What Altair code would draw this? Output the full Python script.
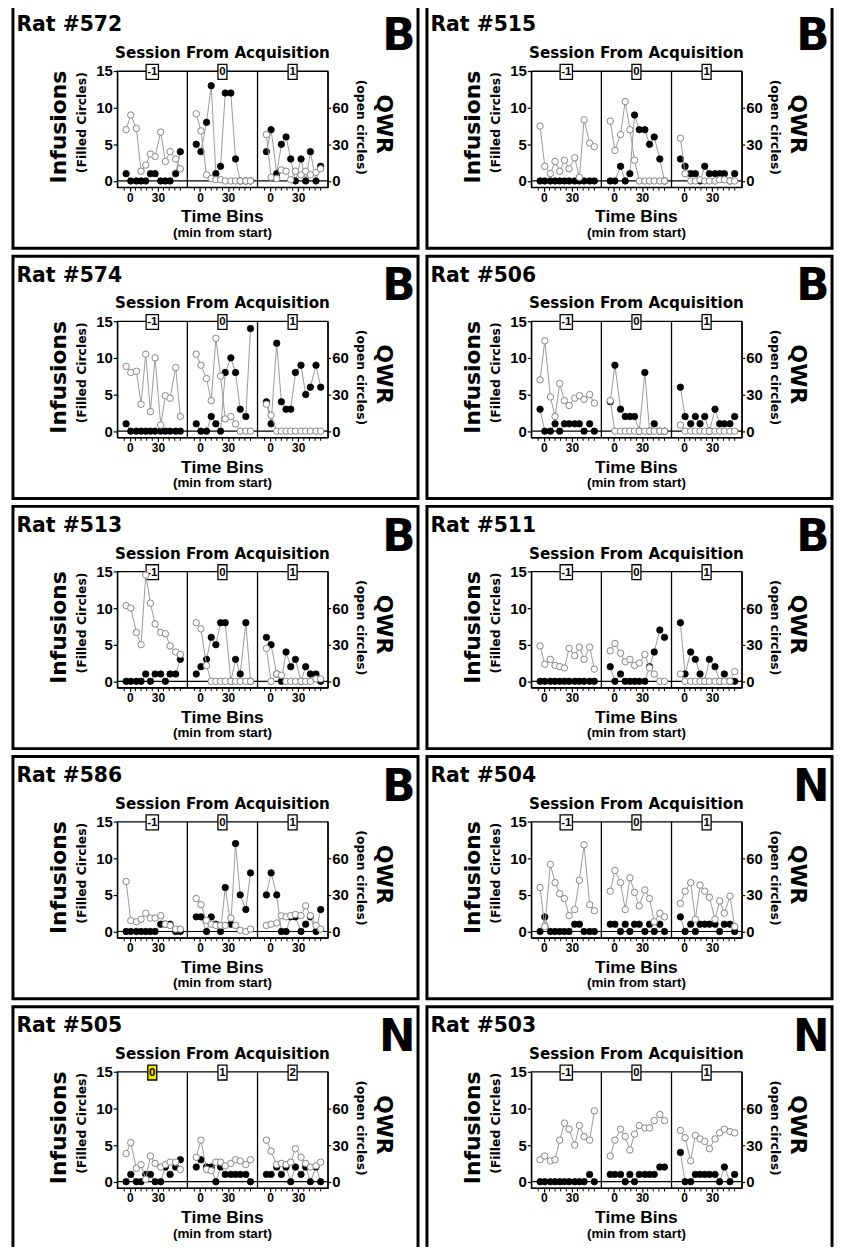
import altair as alt
import pandas as pd

# ---------------- data ----------------
RATS = ["Rat #572", "Rat #515", "Rat #574", "Rat #506", "Rat #513",
        "Rat #511", "Rat #586", "Rat #504", "Rat #505", "Rat #503"]
GROUPS = ["B", "B", "B", "B", "B", "B", "B", "N", "N", "N"]
SESSIONS = [["-1", "0", "1"]] * 8 + [["0", "1", "2"], ["-1", "0", "1"]]
HIGHLIGHT = [None] * 8 + ["0", None]

TIME_BINS = [-4, 1, 7, 12, 17, 22, 27, 33, 38, 43, 49, 54]
MAJOR_TICKS = [0, 30]
MINOR_TICKS = [-6, 6, 12, 18, 24, 36, 42, 48, 54]
INF_TICKS = [0, 5, 10, 15]
QWR_TICKS = [0, 30, 60]

INFUSIONS = [
    [[1, 0, 0, 0, 0, 1, 1, 0, 0, 0, 1, 4], [5, 4, 8, 13, 1, 2, 12, 12, 3, 0, 0, 0], [4, 7, 1, 5, 6, 3, 0, 3, 0, 4, 0, 2]],
    [[0, 0, 0, 0, 0, 0, 0, 0, 0, 0, 0, 0], [0, 0, 2, 0, 1, 9, 7, 7, 5, 6, 3, 0], [3, 2, 1, 1, 0, 2, 1, 1, 1, 1, 0, 1]],
    [[1, 0, 0, 0, 0, 0, 0, 0, 0, 0, 0, 0], [1, 0, 0, 2, 1, 0, 8, 10, 8, 3, 2, 14], [4, 1, 12, 4, 3, 3, 8, 9, 5, 6, 9, 6]],
    [[3, 0, 0, 1, 0, 1, 1, 1, 1, 0, 1, 0], [4, 9, 3, 2, 2, 2, 0, 8, 0, 1, 0, 0], [6, 2, 1, 2, 1, 2, 0, 3, 1, 1, 1, 2]],
    [[0, 0, 0, 0, 1, 0, 1, 1, 0, 1, 1, 3], [1, 2, 3, 6, 5, 8, 8, 0, 3, 1, 8, 0], [6, 5, 1, 0, 4, 2, 3, 0, 2, 1, 1, 0]],
    [[0, 0, 0, 0, 0, 0, 0, 0, 0, 0, 0, 0], [2, 0, 1, 0, 0, 0, 0, 0, 2, 4, 7, 6], [8, 1, 4, 3, 1, 0, 3, 2, 0, 1, 0, 0]],
    [[0, 0, 0, 0, 0, 0, 0, 1, 1, 1, 0, 0], [2, 2, 0, 2, 1, 0, 6, 1, 12, 5, 3, 8], [5, 8, 5, 0, 0, 2, 2, 0, 1, 2, 0, 3]],
    [[0, 2, 0, 0, 0, 0, 0, 1, 1, 0, 0, 0], [1, 1, 0, 1, 0, 1, 1, 0, 1, 0, 1, 0], [2, 0, 1, 0, 1, 1, 1, 1, 0, 1, 1, 0]],
    [[0, 1, 0, 0, 1, 1, 0, 0, 2, 1, 2, 3], [2, 3, 2, 2, 0, 2, 1, 1, 1, 1, 1, 0], [1, 1, 2, 1, 2, 0, 2, 1, 2, 0, 2, 0]],
    [[0, 0, 0, 0, 0, 0, 0, 0, 0, 0, 1, 0], [1, 1, 1, 0, 1, 0, 1, 1, 1, 1, 2, 2], [4, 0, 0, 1, 1, 1, 1, 1, 0, 2, 0, 1]],
]

QWR = [
    [[42, 54, 43, 8, 13, 22, 20, 40, 16, 24, 18, 10], [55, 41, 5, 2, 1, 1, 0, 0, 0, 0, 0, 0], [38, 3, 2, 9, 8, 1, 8, 5, 8, 5, 7, 10]],
    [[45, 12, 6, 16, 8, 17, 10, 19, 3, 50, 31, 28], [49, 25, 38, 65, 42, 17, 0, 0, 0, 0, 0, 0], [35, 6, 0, 0, 1, 0, 0, 0, 1, 1, 0, 0]],
    [[53, 48, 49, 22, 63, 16, 60, 5, 29, 27, 52, 12], [63, 54, 43, 25, 76, 45, 10, 12, 6, 0, 0, 0], [22, 13, 0, 0, 0, 0, 0, 0, 0, 0, 0, 0]],
    [[42, 74, 28, 12, 39, 25, 21, 27, 29, 26, 30, 23], [25, 0, 0, 0, 0, 0, 0, 0, 0, 0, 0, 0], [5, 0, 0, 0, 0, 0, 0, 0, 0, 0, 0, 0]],
    [[62, 60, 40, 30, 87, 64, 47, 40, 39, 29, 24, 22], [48, 43, 13, 0, 0, 0, 0, 0, 0, 0, 0, 0], [27, 0, 6, 5, 0, 0, 0, 0, 0, 0, 2, 2]],
    [[29, 14, 18, 13, 12, 11, 27, 21, 28, 18, 28, 10], [25, 31, 23, 16, 18, 13, 15, 22, 11, 6, 0, 0], [6, 0, 0, 0, 0, 0, 0, 0, 0, 0, 0, 8]],
    [[41, 9, 8, 10, 15, 11, 11, 13, 6, 5, 2, 2], [27, 22, 9, 6, 5, 5, 5, 11, 5, 1, 0, 2], [5, 6, 7, 13, 12, 13, 14, 13, 21, 13, 5, 2]],
    [[36, 4, 55, 40, 31, 27, 13, 18, 42, 71, 22, 17], [33, 50, 40, 18, 44, 32, 21, 34, 27, 8, 15, 12], [23, 33, 40, 10, 38, 33, 28, 10, 25, 15, 29, 4]],
    [[23, 32, 11, 14, 2, 21, 15, 12, 14, 16, 16, 10], [20, 34, 10, 9, 16, 16, 13, 15, 18, 17, 14, 18], [34, 25, 14, 15, 14, 16, 27, 20, 15, 12, 13, 16]],
    [[18, 21, 17, 18, 34, 48, 43, 30, 46, 37, 34, 58], [21, 34, 43, 37, 26, 39, 46, 44, 44, 50, 55, 50], [42, 36, 17, 38, 35, 33, 27, 35, 40, 43, 41, 40]],
]

# ---------------- styling / layout ----------------
DJ = "DejaVu Sans"
LIB = "Liberation Sans"
GRAY_LINE = "#9a9a9a"
GRAY_PT = "#858585"
YELLOW = "#F2E400"

SPAN = 75
X0 = -13.5
W, H = 212, 117
XS = alt.Scale(domain=[X0, X0 + 3 * SPAN], nice=False, zero=False)
YI = alt.Scale(domain=[-0.85, 15], nice=False, zero=False)
YQ = alt.Scale(domain=[-5.1, 90], nice=False, zero=False)

MAJOR_VALS = [s * SPAN + m for s in range(3) for m in MAJOR_TICKS]
X_AXIS = alt.Axis(values=MAJOR_VALS, labelExpr=f"'' + (datum.value % {SPAN})",
                  title=None, tickSize=4, labelFontSize=12, labelPadding=1,
                  labelOverlap=False, labelFlush=False, orient="bottom")
YI_AXIS = alt.Axis(values=INF_TICKS, tickSize=4, labelFontSize=15, labelPadding=1,
                   title=None, orient="left", labelOverlap=False)
YQ_AXIS = alt.Axis(values=QWR_TICKS, tickSize=3, labelFontSize=15, labelPadding=1,
                   title=None, orient="right", labelOverlap=False)

ONE = pd.DataFrame({"k": [0]})


def txt(s, x, y, size, font=DJ, angle=0, align="center", baseline="alphabetic"):
    return alt.Chart(pd.DataFrame({"t": [s]})).mark_text(
        font=font, fontWeight="bold", fontSize=size, angle=angle,
        align=align, baseline=baseline, color="black"
    ).encode(text="t:N", x=alt.value(x), y=alt.value(y))


def panel(k):
    rows = []
    for s in range(3):
        for b, t in enumerate(TIME_BINS):
            rows.append(dict(session=SESSIONS[k][s], sidx=s, xpos=s * SPAN + t,
                             inf=INFUSIONS[k][s][b], qwr=QWR[k][s][b]))
    df = pd.DataFrame(rows)
    sess = pd.DataFrame({"label": SESSIONS[k], "sidx": [0, 1, 2],
                         "hl": [lab == HIGHLIGHT[k] for lab in SESSIONS[k]]})
    seps = pd.DataFrame({"xpos": [X0 + SPAN * s for s in (1, 2)]})
    minor = pd.DataFrame({"xpos": [s * SPAN + m for s in range(3) for m in MINOR_TICKS]})

    X = alt.X("xpos:Q", scale=XS, axis=X_AXIS)

    box = alt.Chart(ONE).mark_rect(fillOpacity=0, stroke="black", strokeWidth=3).encode(
        x=alt.value(-105), x2=alt.value(303), y=alt.value(-65.5), y2=alt.value(178.5))

    line_inf = alt.Chart(df).mark_line(color=GRAY_LINE, strokeWidth=1).encode(
        x=X, y=alt.Y("inf:Q", scale=YI, axis=YI_AXIS), detail="session:N")
    pts_inf = alt.Chart(df).mark_point(filled=True, shape="circle", size=42, color="black",
                                       opacity=1, stroke="black", strokeWidth=0.8).encode(
        x=X, y=alt.Y("inf:Q", scale=YI, axis=YI_AXIS))

    zero = alt.Chart(pd.DataFrame({"inf": [0]})).mark_rule(color="black", strokeWidth=1.2).encode(
        y=alt.Y("inf:Q", scale=YI, axis=YI_AXIS), x=alt.value(0), x2=alt.value(W))

    sep = alt.Chart(seps).mark_rule(color="black", strokeWidth=1.3).encode(
        x=X, y=alt.value(0), y2=alt.value(H))

    mticks = alt.Chart(minor).mark_rule(color="black", strokeWidth=1).encode(
        x=X, y=alt.value(H), y2=alt.value(H + 3.5))

    hdr = alt.Chart(sess).transform_calculate(
        xc=f"datum.sidx * {SPAN} + {X0 + SPAN / 2}",
        hw="3 + 1.8 * length(datum.label)",
    ).transform_calculate(
        xpos="datum.xc - datum.hw", xr="datum.xc + datum.hw")
    hdr_box = hdr.mark_rect(stroke="black", strokeWidth=1.3).encode(
        x=X, x2="xr:Q",
        y=alt.value(-6.7), y2=alt.value(8.3),
        fill=alt.condition("datum.hl", alt.value(YELLOW), alt.value("white")))
    hdr_txt = hdr.mark_text(font=LIB, fontWeight="bold", fontSize=11.5, baseline="middle",
                            color="black").encode(
        x=alt.X("xc:Q", scale=XS, axis=X_AXIS), y=alt.value(1.2), text="label:N")

    deco = [
        box,
        txt(RATS[k], -101.5, -40, 20.5, align="left"),
        txt(GROUPS[k], 300.5, -21, 44, align="right"),
        txt("Session From Acquisition", 106, -13, 15.3),
        txt("Infusions", -59, 56.5, 22, angle=270, baseline="middle"),
        txt("(Filled Circles)", -35.5, 52, 12.5, angle=270, baseline="middle"),
        txt("QWR", 269, 53.5, 22, angle=90, baseline="middle"),
        txt("(open circles)", 246, 56.7, 12.5, angle=90, baseline="middle"),
        txt("Time Bins", 106, 152.5, 17.5, font=LIB),
        txt("(min from start)", 106, 167, 13.5, font=LIB),
    ]

    group_a = alt.layer(line_inf, zero, sep, mticks, pts_inf, hdr_box, hdr_txt, *deco)

    line_q = alt.Chart(df).mark_line(color=GRAY_LINE, strokeWidth=1).encode(
        x=X, y=alt.Y("qwr:Q", scale=YQ, axis=YQ_AXIS), detail="session:N")
    pts_q = alt.Chart(df).mark_point(filled=True, shape="circle", size=42, fill="white",
                                     stroke=GRAY_PT, strokeWidth=1, opacity=1).encode(
        x=X, y=alt.Y("qwr:Q", scale=YQ, axis=YQ_AXIS))
    group_b = alt.layer(line_q, pts_q)

    return alt.layer(group_a, group_b).resolve_scale(y="independent").properties(width=W, height=H)


rows = [alt.hconcat(panel(2 * r), panel(2 * r + 1), spacing=3) for r in range(5)]
chart = alt.vconcat(*rows, spacing=3).properties(
    padding={"left": 2, "top": -9, "right": 0, "bottom": -9}
).configure_view(
    stroke="black", strokeWidth=1.3
).configure_axis(
    labelColor="black", tickColor="black", domainColor="black", domainWidth=1.3,
    tickWidth=1.2, labelFont=LIB, labelFontWeight="bold", grid=False
)

chart.save("out.html", embed_options={"renderer": "svg", "actions": False})
